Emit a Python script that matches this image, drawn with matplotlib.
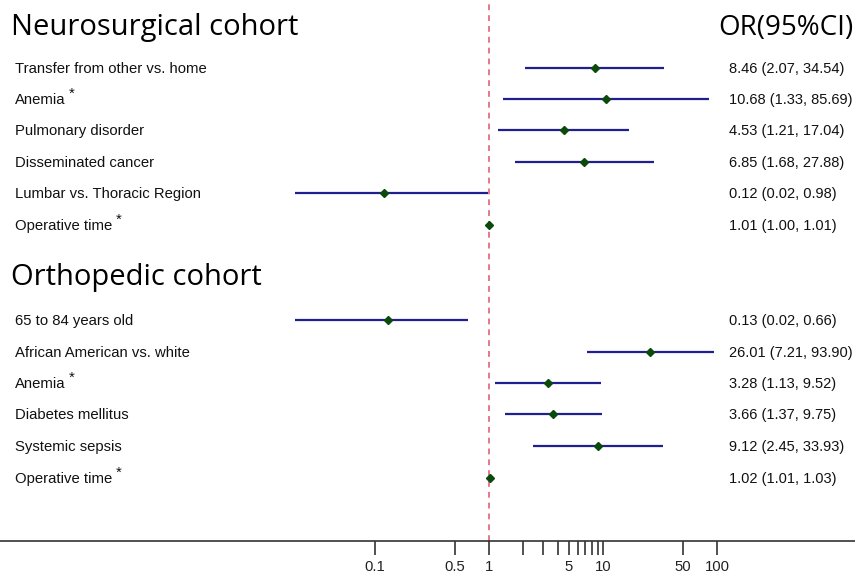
import numpy as np
import matplotlib
matplotlib.use("Agg")
import matplotlib.pyplot as plt

# data
neuro_labels = ["Transfer from other vs. home", "Anemia", "Pulmonary disorder",
                "Disseminated cancer", "Lumbar vs. Thoracic Region", "Operative time"]
neuro_or = [8.46, 10.68, 4.53, 6.85, 0.12, 1.01]
neuro_lo = [2.07, 1.33, 1.21, 1.68, 0.02, 1.00]
neuro_hi = [34.54, 85.69, 17.04, 27.88, 0.98, 1.01]
neuro_star = [False, True, False, False, False, True]

ortho_labels = ["65 to 84 years old", "African American vs. white", "Anemia",
                "Diabetes mellitus", "Systemic sepsis", "Operative time"]
ortho_or = [0.13, 26.01, 3.28, 3.66, 9.12, 1.02]
ortho_lo = [0.02, 7.21, 1.13, 1.37, 2.45, 1.01]
ortho_hi = [0.66, 93.90, 9.52, 9.75, 33.93, 1.03]
ortho_star = [False, False, True, False, False, True]

tick_vals = [0.1, 0.5, 1, 2, 3, 4, 5, 6, 7, 8, 9, 10, 50, 100]
tick_labels = ["0.1", "0.5", "1", "", "", "", "5", "", "", "", "", "10", "50", "100"]

W, H = 855, 576
fig = plt.figure(figsize=(W / 100, H / 100), dpi=100)
axis_y = 541
ax = fig.add_axes([0, (H - axis_y) / H, 1, axis_y / H])
ax.set_xscale("log")
# pixel 489 -> 1, 114 px per decade
ax.set_xlim(10 ** (-489 / 114), 10 ** ((W - 489) / 114))
ax.set_ylim(axis_y, 0)

line_col = "#1f1f8f"
pt_col = "#0b4a0b"
lab_font = "Liberation Sans"
head_font = "Open Sans"
fs = 10.7

rows_neuro = [68, 99, 130, 162, 193, 225]
rows_ortho = [320, 352, 383, 414, 446, 478]

ax.axvline(1, color="#e0607a", lw=1.2, ls=(0, (3.5, 3)), zorder=1)

labels_to_star = []
for rows, labels, orv, lo, hi, star in [
        (rows_neuro, neuro_labels, neuro_or, neuro_lo, neuro_hi, neuro_star),
        (rows_ortho, ortho_labels, ortho_or, ortho_lo, ortho_hi, ortho_star)]:
    for y, lab, o, l, h, s in zip(rows, labels, orv, lo, hi, star):
        ax.plot([l, h], [y, y], color=line_col, lw=1.6, zorder=2, solid_capstyle="butt")
        ax.plot(o, y, marker="D", ms=4.0, color=pt_col, zorder=3)
        t = fig.text(15 / W, 1 - (y + 5) / H, lab, fontsize=fs, family=lab_font,
                     va="baseline", ha="left", color="#111111")
        if s:
            labels_to_star.append((t, y))
        fig.text(729 / W, 1 - (y + 5) / H, "%.2f (%.2f, %.2f)" % (o, l, h), fontsize=10.5,
                 family=lab_font, va="baseline", ha="left", color="#111111")

fig.text(11 / W, 1 - 28 / H, "Neurosurgical cohort", fontsize=21, family=head_font,
         va="center", ha="left", color="black")
fig.text(11 / W, 1 - 277 / H, "Orthopedic cohort", fontsize=21, family=head_font,
         va="center", ha="left", color="black")
fig.text(853 / W, 1 - 28 / H, "OR(95%CI)", fontsize=20, family=head_font,
         va="center", ha="right", color="black")

fig.canvas.draw()
r = fig.canvas.get_renderer()
for t, y in labels_to_star:
    bb = t.get_window_extent(r)
    fig.text((bb.x1 + 3) / W, 1 - (y - 5) / H, "*", fontsize=fs, family=lab_font,
             va="center", ha="left", color="#111111")

for sp in ["top", "left", "right"]:
    ax.spines[sp].set_visible(False)
ax.spines["bottom"].set_color("#333333")
ax.spines["bottom"].set_linewidth(1.2)
ax.set_yticks([])
ax.xaxis.set_minor_locator(matplotlib.ticker.NullLocator())
ax.set_xticks(tick_vals)
ax.set_xticklabels(tick_labels, fontsize=fs, family=lab_font, color="#222222")
ax.tick_params(axis="x", direction="out", length=10, width=1.2, color="#333333", pad=4)
ax.patch.set_visible(False)

fig.savefig("out.png", dpi=100)
